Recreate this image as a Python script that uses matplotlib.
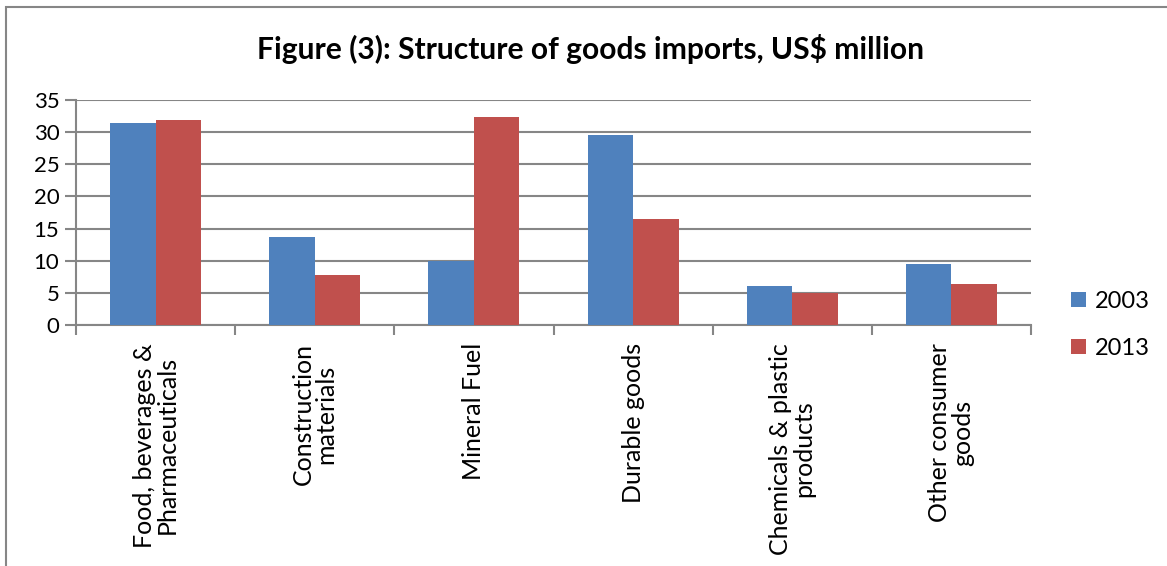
import matplotlib
matplotlib.use("Agg")
import matplotlib.pyplot as plt
import numpy as np
from matplotlib.patches import Rectangle

categories = ["Food, beverages &\nPharmaceuticals", "Construction\nmaterials", "Mineral Fuel",
              "Durable goods", "Chemicals & plastic\nproducts", "Other consumer\ngoods"]
values_2003 = [31.4, 13.7, 10.0, 29.5, 6.0, 9.5]
values_2013 = [31.9, 7.8, 32.4, 16.5, 4.9, 6.4]
yticks = [0, 5, 10, 15, 20, 25, 30, 35]

plt.rcParams['font.family'] = ['Lato', 'DejaVu Sans']

fig = plt.figure(figsize=(11.67, 5.66), dpi=100)
ax = fig.add_axes([0.0651, 0.4258, 0.8184, 0.3975])

# outer chart border
fig.patches.append(Rectangle((0.0055, -0.1), 1.2, 1.088, transform=fig.transFigure,
                             fill=False, edgecolor="#868686", linewidth=1.5))

x = np.arange(len(categories))
w = 0.286
ax.bar(x - w / 2, values_2003, w, color="#4F81BD", label="2003", zorder=3)
ax.bar(x + w / 2, values_2013, w, color="#C0504D", label="2013", zorder=3)

ax.set_xlim(-0.5, len(categories) - 0.5)
ax.set_ylim(0, 35)
ax.set_yticks(yticks)
ax.yaxis.grid(True, color="#868686", linewidth=1.5, zorder=0)
ax.set_axisbelow(True)

ax.set_xticks(x)
ax.set_xticklabels(categories, rotation=90, ha="center", va="top", multialignment="center",
                   linespacing=1.0)
ax.set_xticks(np.arange(len(categories) + 1) - 0.5, minor=True)
ax.tick_params(axis="x", which="major", length=0, pad=13, labelsize=18)
ax.tick_params(axis="x", which="minor", length=7, width=1.5, color="#868686")
ax.tick_params(axis="y", length=8, width=1.5, color="#868686", labelsize=16, pad=4)

for s in ["top", "right"]:
    ax.spines[s].set_visible(False)
for s in ["left", "bottom"]:
    ax.spines[s].set_color("#868686")
    ax.spines[s].set_linewidth(1.5)

fig.text(0.506, 0.913, "Figure (3): Structure of goods imports, US$ million",
         ha="center", va="center", fontsize=21.6, fontweight="bold")

ax.legend(loc="center left", bbox_to_anchor=(1.02, 0.0), frameon=False, fontsize=17,
          handlelength=0.6, handleheight=0.6, handletextpad=0.4, labelspacing=1.1)

fig.savefig("out.png", dpi=100)
